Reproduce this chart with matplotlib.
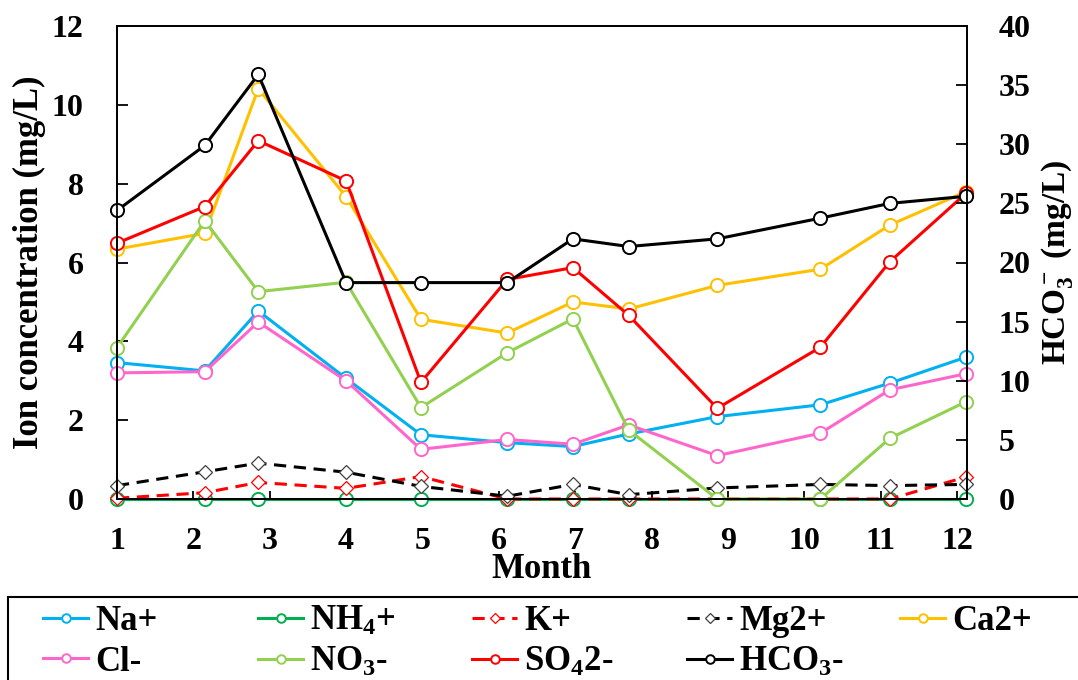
import matplotlib
matplotlib.use("Agg")
import matplotlib.pyplot as plt
from matplotlib.patches import Rectangle

plt.rcParams['font.family'] = ['Liberation Serif', 'DejaVu Serif']
plt.rcParams['font.weight'] = 'bold'
plt.rcParams['mathtext.fontset'] = 'custom'
plt.rcParams['mathtext.rm'] = 'Liberation Serif:bold'
plt.rcParams['mathtext.it'] = 'Liberation Serif:bold'
plt.rcParams['mathtext.bf'] = 'Liberation Serif:bold'
plt.rcParams['mathtext.default'] = 'bf'

# sampling positions along the month axis
months = [1, 2, 3, 4, 5, 6, 7, 8, 9, 10, 11, 12]
sample_pos = [1.0, 2.15, 2.85, 4.0, 4.98, 6.11, 6.97, 7.70, 8.86, 10.21, 11.12, 12.12]

# ion concentrations, mg/L
na = [3.46, 3.25, 4.77, 3.06, 1.63, 1.43, 1.33, 1.65, 2.09, 2.39, 2.94, 3.60]
nh4 = [0, 0, 0, 0, 0, 0, 0, 0, 0, 0, 0, 0]
k = [0.02, 0.16, 0.42, 0.27, 0.57, 0.0, 0.0, 0.0, 0.0, 0.0, 0.0, 0.56]
mg = [0.34, 0.69, 0.91, 0.68, 0.32, 0.07, 0.37, 0.11, 0.28, 0.37, 0.34, 0.37]
ca = [6.34, 6.74, 10.41, 7.67, 4.56, 4.21, 5.00, 4.82, 5.42, 5.83, 6.95, 7.80]
cl = [3.20, 3.23, 4.49, 3.00, 1.26, 1.51, 1.39, 1.88, 1.10, 1.67, 2.77, 3.18]
no3 = [3.84, 7.06, 5.26, 5.50, 2.32, 3.71, 4.57, 1.75, 0.0, 0.0, 1.54, 2.47]
so4 = [6.49, 7.42, 9.09, 8.07, 2.96, 5.57, 5.87, 4.66, 2.30, 3.85, 6.02, 7.76]
hco3 = [24.4, 29.9, 35.9, 18.3, 18.3, 18.3, 22.0, 21.35, 22.0, 23.75, 25.0, 25.6]

fig = plt.figure(figsize=(10.78, 6.8), dpi=100)
ax = fig.add_axes([117 / 1078, 1 - 499 / 680, 850 / 1078, 473 / 680])
ax2 = ax.twinx()

circ = dict(marker='o', ms=9.5, mfc='white', mew=1.4, lw=2.2, clip_on=False)
diam = dict(marker='D', ms=7.5, mfc='white', mew=0.9, lw=2.2, ls=(0, (4, 2.5)), clip_on=False)

h_na, = ax.plot(sample_pos, na, color='#00B0F0', label='Na+', **circ)
h_nh4, = ax.plot(sample_pos, nh4, color='#00B050', label='NH$_4$+', **circ)
h_k, = ax.plot(sample_pos, k, color='#FF0000', mec='#FF0000', label='K+', **diam)
h_mg, = ax.plot(sample_pos, mg, color='black', mec='#404040', label='Mg2+', **diam)
h_ca, = ax.plot(sample_pos, ca, color='#FFC000', label='Ca2+', **circ)
h_cl, = ax.plot(sample_pos, cl, color='#FF66CC', label='Cl-', **circ)
h_no3, = ax.plot(sample_pos, no3, color='#92D050', label='NO$_3$-', **circ)
h_so4, = ax.plot(sample_pos, so4, color='#FF0000', label='SO$_4$2-', **circ)
h_hco3, = ax2.plot(sample_pos, hco3, color='black', label='HCO$_3$-', **circ)

for a in (ax, ax2):
    a.set_xlim(1, 12.13)
    for s in a.spines.values():
        s.set_linewidth(1.3)

ax.set_ylim(0, 12)
ax.set_yticks(range(0, 13, 2))
ax2.set_ylim(0, 40)
ax2.set_yticks(range(0, 41, 5))
ax.set_xticks(months)

ax.tick_params(axis='y', direction='in', length=8, width=1.3, pad=24, labelsize=23)
ax.tick_params(axis='x', direction='in', length=6, width=1.3, pad=20, labelsize=23)
ax2.tick_params(axis='y', direction='in', length=8, width=1.3, pad=23, labelsize=23)

ax.set_xlabel('Month', fontsize=25, fontweight='bold')
ax.xaxis.set_label_coords(0.5, -0.115)
ax.set_ylabel('Ion concentration (mg/L)', fontsize=25, fontweight='bold')
ax.yaxis.set_label_coords(-0.084, 0.5)
ax2.set_ylabel('HCO$_3^-$ (mg/L)', fontsize=24, fontweight='bold', rotation=90)
ax2.yaxis.set_label_coords(1.085, 0.5)

# legend laid out as fixed-width columns inside one box
columns = [[h_na, h_cl], [h_nh4, h_no3], [h_k, h_so4], [h_mg, h_hco3], [h_ca]]
col_x = [43, 258, 472, 687, 900]
for handles, x in zip(columns, col_x):
    fig.legend(handles=handles, loc='upper left', bbox_to_anchor=(x / 1078, 1 - 605 / 680),
               frameon=False, borderpad=0, borderaxespad=0, handlelength=1.3,
               handletextpad=0.2, labelspacing=0.22, markerscale=0.65,
               prop={'size': 25, 'weight': 'bold'})
fig.patches.append(Rectangle((8 / 1078, -0.1), 1.2, 0.1 + 83 / 680, transform=fig.transFigure,
                             fill=False, lw=1.5, edgecolor='black'))

fig.savefig('out.png', dpi=100)
